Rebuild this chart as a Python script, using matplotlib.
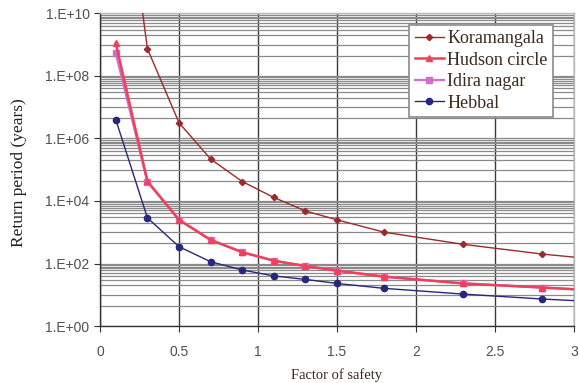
import numpy as np
import matplotlib
matplotlib.use("Agg")
import matplotlib.pyplot as plt

# factor of safety (last point has no marker, line runs on to the axis edge)
fos = [0.1, 0.3, 0.5, 0.7, 0.9, 1.1, 1.3, 1.5, 1.8, 2.3, 2.8, 3.0]

koramangala = [3e16, 7.5e8, 3.2e6, 2.2e5, 4.2e4, 1.3e4, 4.8e3, 2.5e3, 1.0e3, 410, 200, 160]
hudson = [1.1e9, 4.3e4, 2.5e3, 570, 230, 123, 83, 59, 38, 23, 17, 15]
idira = [5.3e8, 4.1e4, 2.5e3, 570, 230, 123, 83, 59, 38, 23, 17, 15]
hebbal = [4.0e6, 2.9e3, 345, 114, 62, 40, 31, 23, 16, 10.5, 7.3, 6.5]

series_names = ["Koramangala", "Hudson circle", "Idira nagar", "Hebbal"]
ytick_vals = [1e0, 1e2, 1e4, 1e6, 1e8, 1e10]
ytick_labels = ["1.E+00", "1.E+02", "1.E+04", "1.E+06", "1.E+08", "1.E+10"]
xtick_vals = [0, 0.5, 1, 1.5, 2, 2.5, 3]
xtick_labels = ["0", "0.5", "1", "1.5", "2", "2.5", "3"]

fig = plt.figure(figsize=(5.79, 3.83), dpi=100)
ax = fig.add_axes([0.1727, 0.1488, 0.8187, 0.816])

marks = list(range(len(fos) - 1))
ax.plot(fos, koramangala, color="#9b2a2a", lw=1.0, marker="D", ms=3.2,
        markevery=marks, label=series_names[0], zorder=5)
ax.plot(fos, hudson, color="#f0405a", lw=1.8, marker="^", ms=5,
        markevery=marks, label=series_names[1], zorder=4)
ax.plot(fos, idira, color="#d070c8", lw=1.6, marker="s", ms=5,
        markevery=marks, label=series_names[2], zorder=3)
ax.plot(fos, hebbal, color="#28287a", lw=1.0, marker="o", ms=4.5,
        markevery=marks, label=series_names[3], zorder=5)

ax.set_yscale("log")
ax.set_ylim(1, 1e10)
ax.set_xlim(0, 3)

ax.set_yticks(ytick_vals)
ax.set_yticklabels(ytick_labels)
ax.set_xticks(xtick_vals)
ax.set_xticklabels(xtick_labels)

# gridlines: dense in upper decade of each 2-decade step, one line in lower decade
minor = []
for n in range(5):
    base = 100.0 ** n
    minor.append(4.5 * base)
    for k in range(1, 10):
        minor.append(10 * base * k)
ax.set_yticks(minor, minor=True)
ax.yaxis.set_minor_formatter(matplotlib.ticker.NullFormatter())
ax.tick_params(axis="y", which="minor", length=0)

ax.grid(True, axis="y", which="both", color="#8a8a8a", lw=0.9)
ax.grid(True, axis="x", which="major", color="#3a3a3a", lw=1.0)
ax.set_axisbelow(True)

for s in ["left", "bottom"]:
    ax.spines[s].set_color("#333333")
    ax.spines[s].set_linewidth(1.0)
for s in ["top", "right"]:
    ax.spines[s].set_color("#b8b8b8")
    ax.spines[s].set_linewidth(1.0)

ax.tick_params(axis="both", which="major", direction="out", length=4,
               color="#333333", labelcolor="#505050", labelsize=10)
ax.tick_params(axis="x", pad=10)
for lab in ax.get_xticklabels() + ax.get_yticklabels():
    lab.set_family("Liberation Sans")

ax.set_xlabel("Factor of safety", family="Liberation Serif", fontsize=10.5,
              color="#3a2a20", labelpad=6)
ax.set_ylabel("Return period (years)", family="Liberation Serif", fontsize=12.5,
              color="#222222")
ax.yaxis.set_label_coords(-0.155, 0.49)

leg = ax.legend(loc="upper right", bbox_to_anchor=(0.956, 0.964),
                prop={"family": "Liberation Serif", "size": 13},
                frameon=True, fancybox=False, shadow=False,
                handlelength=1.6, handletextpad=0.2, borderpad=0.3,
                labelspacing=0.25, borderaxespad=0.0)
leg.get_frame().set_edgecolor("#8a8a8a")
leg.get_frame().set_linewidth(1.2)
leg.get_frame().set_alpha(1)
for t in leg.get_texts():
    t.set_color("#3a2a20")

fig.savefig("out.png", dpi=100)
